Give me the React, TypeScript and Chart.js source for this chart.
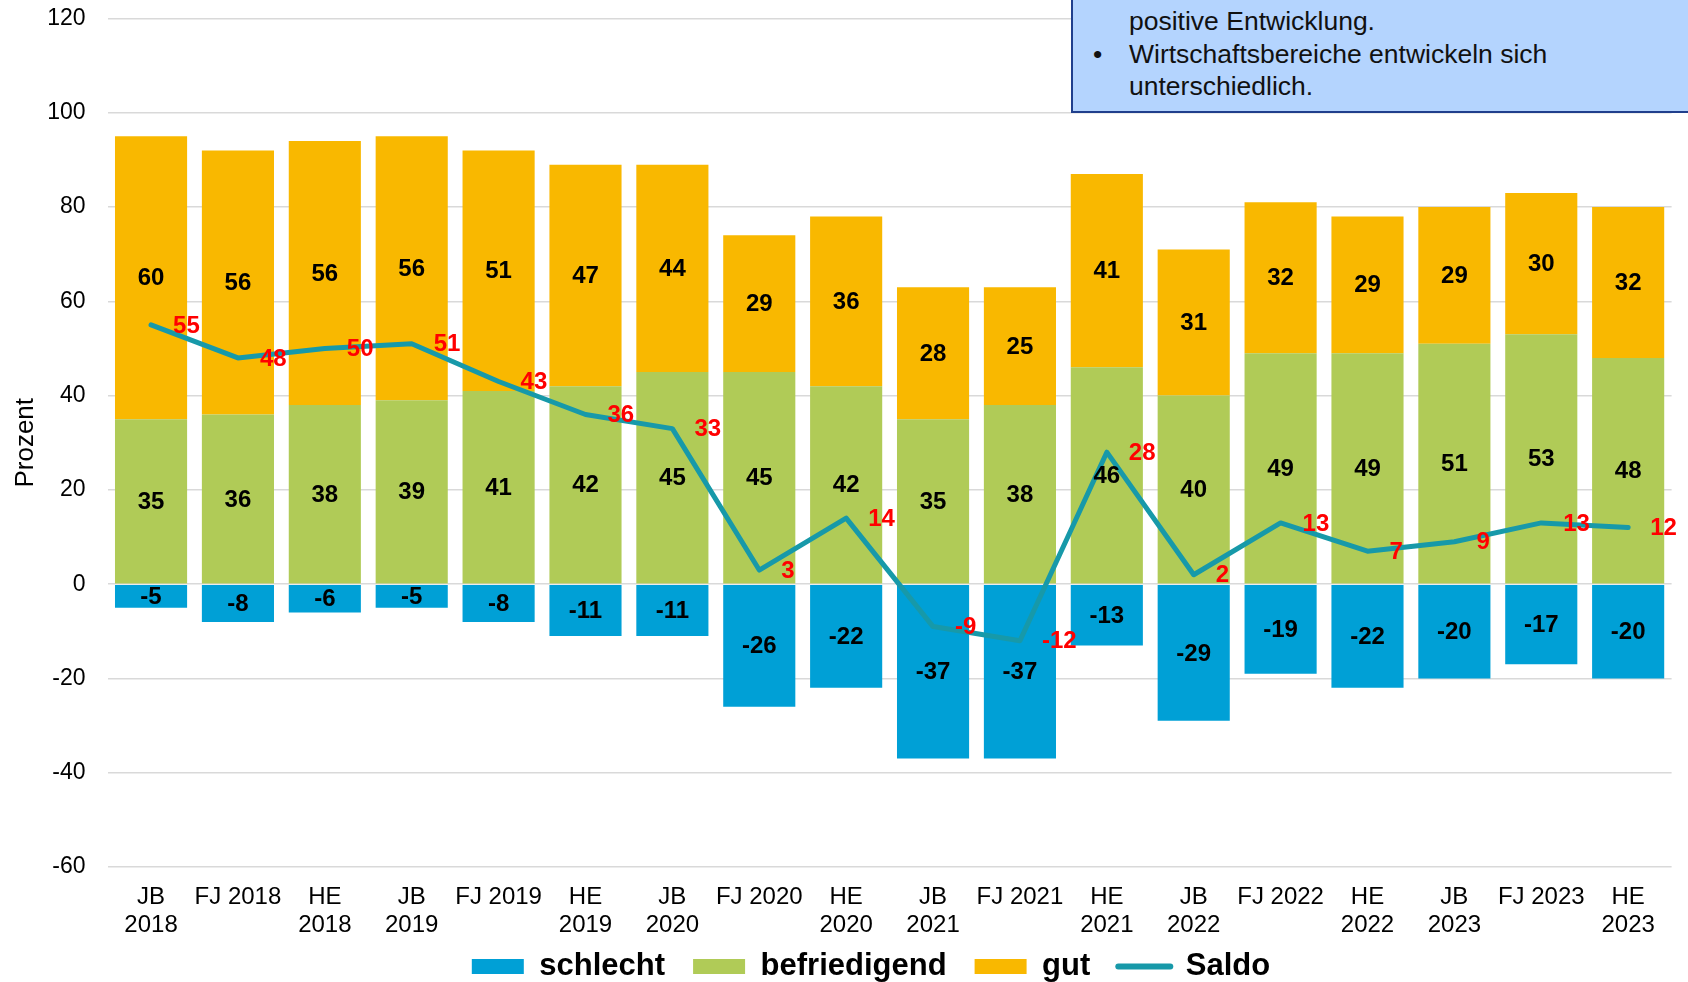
import React, { useEffect, useRef } from "react";
import { Chart, registerables } from "chart.js";

Chart.register(...registerables);

const CATEGORIES: (string | string[])[] = [
  ["JB", "2018"], "FJ 2018", ["HE", "2018"],
  ["JB", "2019"], "FJ 2019", ["HE", "2019"],
  ["JB", "2020"], "FJ 2020", ["HE", "2020"],
  ["JB", "2021"], "FJ 2021", ["HE", "2021"],
  ["JB", "2022"], "FJ 2022", ["HE", "2022"],
  ["JB", "2023"], "FJ 2023", ["HE", "2023"],
];

const SCHLECHT = [-5, -8, -6, -5, -8, -11, -11, -26, -22, -37, -37, -13, -29, -19, -22, -20, -17, -20];
const BEFRIEDIGEND = [35, 36, 38, 39, 41, 42, 45, 45, 42, 35, 38, 46, 40, 49, 49, 51, 53, 48];
const GUT = [60, 56, 56, 56, 51, 47, 44, 29, 36, 28, 25, 41, 31, 32, 29, 29, 30, 32];
const SALDO = [55, 48, 50, 51, 43, 36, 33, 3, 14, -9, -12, 28, 2, 13, 7, 9, 13, 12];

const Y_MIN = -60;
const Y_MAX = 120;
const Y_STEP = 20;

const NOTE_LINES = ["positive Entwicklung.", "Wirtschaftsbereiche entwickeln sich", "unterschiedlich."];

const C_SCHLECHT = "#00A0D6";
const C_BEFR = "#B0CB57";
const C_GUT = "#F9B800";
const C_LINE = "#1799A9";
const FONT = '"Liberation Sans", Arial, Helvetica, sans-serif';

const CANVAS_W = 1742;
const CANVAS_H = 992;

const labelsPlugin = {
  id: "valueLabels",
  afterDatasetsDraw(chart: any) {
    const ctx = chart.ctx;
    ctx.save();
    ctx.textAlign = "center";
    ctx.textBaseline = "middle";
    ctx.font = `bold 24px ${FONT}`;
    ctx.fillStyle = "#000000";
    for (let di = 0; di < 3; di++) {
      const meta = chart.getDatasetMeta(di);
      const data = chart.data.datasets[di].data as number[];
      meta.data.forEach((el: any, i: number) => {
        const p = el.getProps(["x", "y", "base"], true);
        ctx.fillText(String(data[i]), p.x, (p.y + p.base) / 2 + 1);
      });
    }
    const lm = chart.getDatasetMeta(3);
    const ldata = chart.data.datasets[3].data as number[];
    ctx.fillStyle = "#FF0000";
    ctx.textAlign = "left";
    ctx.font = `bold 24px ${FONT}`;
    lm.data.forEach((pt: any, i: number) => {
      ctx.fillText(String(ldata[i]), pt.x + 22, pt.y + 1);
    });
    ctx.restore();
  },
};

export default function App() {
  const ref = useRef<HTMLCanvasElement | null>(null);

  useEffect(() => {
    if (!ref.current) return;
    const barCommon = {
      type: "bar" as const,
      stack: "s",
      order: 1,
      borderWidth: 0,
      barPercentage: 0.83,
      categoryPercentage: 1.0,
    };
    const chart = new Chart(ref.current, {
      type: "bar",
      data: {
        labels: CATEGORIES,
        datasets: [
          { ...barCommon, label: "schlecht", data: SCHLECHT, backgroundColor: C_SCHLECHT },
          { ...barCommon, label: "befriedigend", data: BEFRIEDIGEND, backgroundColor: C_BEFR },
          { ...barCommon, label: "gut", data: GUT, backgroundColor: C_GUT },
          {
            type: "line" as const,
            label: "Saldo",
            data: SALDO,
            stack: "line",
            order: 0,
            borderColor: C_LINE,
            backgroundColor: C_LINE,
            borderWidth: 5,
            borderCapStyle: "round",
            borderJoinStyle: "round",
            pointRadius: 0,
            tension: 0,
          } as any,
        ],
      },
      options: {
        responsive: false,
        animation: false,
        layout: { padding: { top: 18.5, left: 0, right: 0, bottom: 0 } },
        scales: {
          x: {
            stacked: true,
            grid: { display: false },
            border: { display: false },
            ticks: {
              autoSkip: false,
              maxRotation: 0,
              minRotation: 0,
              padding: 9,
              color: "#000000",
              font: { family: FONT, size: 24, lineHeight: 1.15 },
            },
            afterFit: (s: any) => {
              s.height = 56;
              s._computeLabelArea = () => undefined;
            },
          },
          y: {
            stacked: true,
            min: Y_MIN,
            max: Y_MAX,
            grid: { color: "#D9D9D9", lineWidth: 1.5, drawTicks: true, tickLength: 22, tickColor: "rgba(0,0,0,0)" },
            border: { display: false },
            ticks: {
              stepSize: Y_STEP,
              padding: 0,
              color: "#000000",
              font: { family: FONT, size: 23 },
            },
            title: {
              display: true,
              text: "Prozent",
              color: "#000000",
              font: { family: FONT, size: 26 },
              padding: { top: 10, bottom: 0 },
            },
            afterFit: (s: any) => {
              s.width = 107.6;
            },
          },
          yR: {
            position: "right",
            display: true,
            grid: { display: false },
            border: { display: false },
            ticks: { display: false },
            afterFit: (s: any) => {
              s.width = 70.4;
            },
          },
        },
        plugins: {
          tooltip: { enabled: false },
          legend: {
            position: "bottom",
            labels: {
              usePointStyle: true,
              pointStyleWidth: 52,
              boxHeight: 15,
              padding: 28,
              color: "#000000",
              font: { family: FONT, size: 31, weight: "bold" },
              sort: (a: any, b: any) => a.datasetIndex - b.datasetIndex,
              generateLabels: (ch: any) => {
                const items = (Chart.defaults.plugins.legend.labels as any).generateLabels(ch);
                return items.map((it: any) => {
                  if (it.datasetIndex === 3) {
                    return { ...it, pointStyle: "line", strokeStyle: C_LINE, fillStyle: C_LINE, lineWidth: 6, lineCap: "round" };
                  }
                  return { ...it, pointStyle: "rect", lineWidth: 0, strokeStyle: "rgba(0,0,0,0)" };
                });
              },
            },
          },
        },
      } as any,
      plugins: [labelsPlugin],
    });
    return () => chart.destroy();
  }, []);

  return (
    <div
      style={{
        position: "fixed",
        left: 0,
        top: 0,
        width: 1688,
        height: 982,
        overflow: "hidden",
        background: "#ffffff",
      }}
    >
      <div style={{ position: "absolute", left: 0, top: 0, width: CANVAS_W, height: CANVAS_H }}>
        <canvas ref={ref} width={CANVAS_W} height={CANVAS_H} style={{ width: CANVAS_W, height: CANVAS_H, display: "block" }} />
      </div>
      <div
        style={{
          position: "absolute",
          left: 1071,
          top: -20,
          width: 700,
          height: 133,
          boxSizing: "border-box",
          background: "#B4D4FE",
          border: "2px solid #203F8C",
          paddingTop: 23.3,
          paddingLeft: 56,
          fontFamily: FONT,
          fontSize: 26.5,
          lineHeight: "32.3px",
          color: "#111111",
        }}
      >
        <div>{NOTE_LINES[0]}</div>
        <div style={{ position: "relative" }}>
          <span style={{ position: "absolute", left: -36 }}>•</span>
          {NOTE_LINES[1]}
        </div>
        <div>{NOTE_LINES[2]}</div>
      </div>
    </div>
  );
}
